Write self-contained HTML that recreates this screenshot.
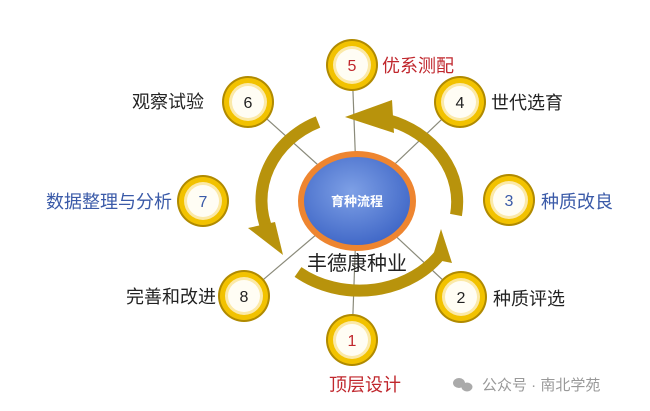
<!DOCTYPE html>
<html><head><meta charset="utf-8"><style>
body{margin:0;background:#fff;}
svg{display:block}
text{font-family:"Liberation Sans","Noto Sans CJK SC",sans-serif;}
</style></head><body>
<svg width="650" height="411" viewBox="0 0 650 411" xmlns="http://www.w3.org/2000/svg">
<defs>
<radialGradient id="cg" cx="45%" cy="40%" r="65%">
<stop offset="0" stop-color="#7ea0e6"/><stop offset="1" stop-color="#3a62c4"/>
</radialGradient>
<g id="node">
<circle r="26" fill="#b08a00"/>
<circle r="24" fill="#f2c200"/>
<circle r="19" fill="#fbe9a8"/>
<circle r="16" fill="#fffdf4"/>
</g>
</defs>
<g stroke="#8a8a7a" stroke-width="1.2">
<line x1="357" y1="200" x2="352" y2="65"/>
<line x1="357" y1="200" x2="460" y2="102"/>
<line x1="357" y1="200" x2="461" y2="297"/>
<line x1="357" y1="200" x2="352" y2="340"/>
<line x1="357" y1="200" x2="244" y2="296"/>
<line x1="357" y1="200" x2="248" y2="102"/>
</g>
<g fill="none" stroke="#b8930c" stroke-width="12">
<path d="M388 120 A100 86 0 0 1 456 215"/>
<path d="M318 122 A95 86 0 0 0 268 232"/>
<path d="M298 272 A98 84 0 0 0 442 252"/>
</g>
<g fill="#b8930c">
<polygon points="345,117 392,100 394,133"/>
<polygon points="283,255 248,228 275,222"/>
<polygon points="441,229 432,259 452,263"/>
</g>
<ellipse cx="357" cy="201" rx="56" ry="47" fill="url(#cg)" stroke="#ee8530" stroke-width="6"/>
<text x="357" y="206" font-size="13" font-weight="bold" fill="#fff" text-anchor="middle">育种流程</text>
<text x="357" y="270" font-size="20" fill="#222" text-anchor="middle">丰德康种业</text>
<use href="#node" x="352" y="65"/>
<use href="#node" x="460" y="102"/>
<use href="#node" x="509" y="200"/>
<use href="#node" x="461" y="297"/>
<use href="#node" x="352" y="340"/>
<use href="#node" x="244" y="296"/>
<use href="#node" x="203" y="201"/>
<use href="#node" x="248" y="102"/>
<g font-size="16" text-anchor="middle">
<text x="352" y="71" fill="#c0272d">5</text>
<text x="460" y="108" fill="#222">4</text>
<text x="509" y="206" fill="#3a5aa8">3</text>
<text x="461" y="303" fill="#222">2</text>
<text x="352" y="346" fill="#c0272d">1</text>
<text x="244" y="302" fill="#222">8</text>
<text x="203" y="207" fill="#3a5aa8">7</text>
<text x="248" y="108" fill="#222">6</text>
</g>
<g font-size="18">
<text x="382" y="72" fill="#c0272d">优系测配</text>
<text x="491" y="109" fill="#222">世代选育</text>
<text x="541" y="208" fill="#3a5aa8">种质改良</text>
<text x="493" y="305" fill="#222">种质评选</text>
<text x="329" y="391" fill="#c0272d">顶层设计</text>
<text x="216" y="303" fill="#222" text-anchor="end">完善和改进</text>
<text x="172" y="208" fill="#3a5aa8" text-anchor="end">数据整理与分析</text>
<text x="204" y="108" fill="#222" text-anchor="end">观察试验</text>
</g>
<g fill="#aaa">
<ellipse cx="459" cy="383" rx="6" ry="5"/>
<ellipse cx="467" cy="387" rx="5.5" ry="4.5"/>
</g>
<text x="482" y="390" font-size="15" fill="#999">公众号 · 南北学苑</text>
</svg>
</body></html>
